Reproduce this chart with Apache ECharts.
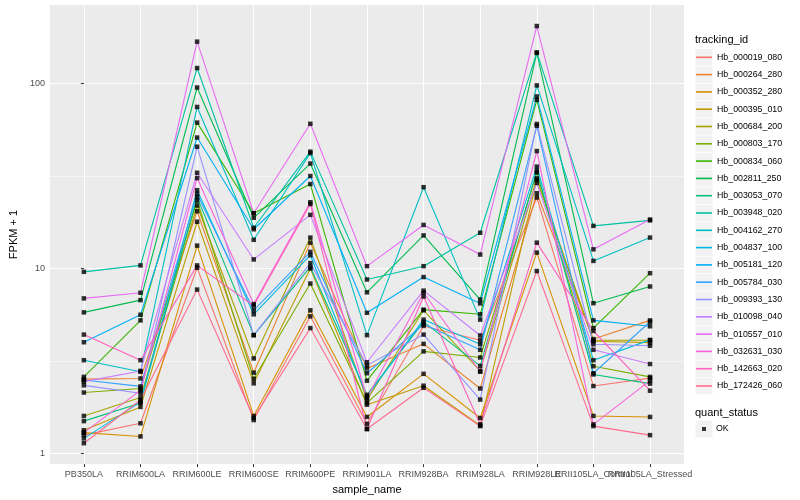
<!DOCTYPE html>
<html><head><meta charset="utf-8">
<script src="https://cdn.jsdelivr.net/npm/echarts@6/dist/echarts.min.js"></script>
<style>html,body{margin:0;padding:0;background:#fff}#c{width:800px;height:500px}</style>
</head><body><div id="c"></div>
<script>
const categories = ['PB350LA','RRIM600LA','RRIM600LE','RRIM600SE','RRIM600PE','RRIM901LA','RRIM928BA','RRIM928LA','RRIM928LE','RRII105LA_Control','RRII105LA_Stressed'];
const trackingIds = ['Hb_000019_080','Hb_000264_280','Hb_000352_280','Hb_000395_010','Hb_000684_200','Hb_000803_170','Hb_000834_060','Hb_002811_250','Hb_003053_070','Hb_003948_020','Hb_004162_270','Hb_004837_100','Hb_005181_120','Hb_005784_030','Hb_009393_130','Hb_010098_040','Hb_010557_010','Hb_032631_030','Hb_142663_020','Hb_172426_060'];
const colors = ['#F8766D','#EA8331','#D89000','#C09B00','#A3A500','#7CAE00','#39B600','#00BB4E','#00BF7D','#00C1A3','#00BFC4','#00BAE0','#00B0F6','#35A2FF','#9590FF','#C77CFF','#E76BF3','#FA62DB','#FF62BC','#FF6C91'];
const yTicks = [1, 10, 100];
const yMinorTicks = [3.1623, 31.623];
const quantStatus = ['OK'];

const s01 = [1.26, 1.46, 10.1, 1.52, 5.52, 1.45, 4.9, 4.1, 24.2, 2.32, 2.56];
const s02 = [2.53, 2.55, 20.4, 2.74, 13.8, 2.89, 3.92, 2.25, 25.5, 4.16, 5.25];
const s03 = [1.30, 1.24, 13.3, 1.60, 5.95, 1.58, 2.70, 1.56, 12.2, 1.60, 1.58];
const s04 = [1.34, 1.79, 17.9, 2.40, 10.0, 1.84, 2.33, 1.42, 30.2, 4.05, 3.98];
const s05 = [1.60, 2.01, 21.9, 3.27, 14.7, 1.95, 5.95, 2.8, 30.7, 4.1, 4.1];
const s06 = [2.14, 2.25, 23.3, 2.54, 8.3, 1.88, 3.57, 3.31, 33, 2.97, 2.6];
const s07 = [2.6, 5.25, 61.4, 19.9, 28.6, 2.48, 6.0, 5.66, 81.5, 4.77, 9.44];
const s08 = [5.8, 6.75, 95, 18.8, 36.9, 7.44, 15.1, 6.8, 146, 6.5, 8.0];
const s09 = [1.50, 1.88, 24.3, 4.37, 10.2, 2.08, 5.15, 2.98, 33.7, 2.68, 2.39];
const s10 = [9.6, 10.4, 121, 16.6, 42.8, 8.73, 10.3, 15.6, 147, 17.0, 18.2];
const s11 = [3.2, 2.77, 74.6, 14.3, 42.0, 4.37, 27.5, 5.3, 97.5, 11.0, 14.7];
const s12 = [1.21, 1.90, 26.5, 5.66, 11.8, 2.04, 5.3, 3.9, 35.5, 3.2, 4.12];
const s13 = [4.0, 5.63, 51, 16.3, 31.6, 5.77, 9.0, 6.48, 85, 5.25, 4.88];
const s14 = [2.5, 2.31, 25.3, 5.95, 12.3, 2.72, 5.0, 3.64, 59, 2.72, 5.16];
const s15 = [2.34, 2.12, 45.5, 4.37, 10.7, 3.0, 4.4, 1.96, 60.4, 3.9, 3.83];
const s16 = [2.45, 2.8, 32.9, 11.2, 19.5, 3.12, 7.6, 4.35, 29, 3.64, 3.05];
const s17 = [6.9, 7.4, 168, 19.9, 60.5, 10.3, 17.2, 11.9, 204, 12.7, 18.4];
const s18 = [1.3, 2.2, 30.8, 6.43, 22.8, 2.0, 7.4, 2.77, 43.1, 1.44, 2.48];
const s19 = [4.4, 3.2, 10.4, 6.3, 22.3, 1.36, 7.06, 1.44, 13.8, 4.6, 2.19];
const s20 = [1.14, 1.95, 7.7, 1.56, 4.77, 1.36, 2.27, 1.41, 9.7, 1.41, 1.26];
const seriesValues = [s01,s02,s03,s04,s05,s06,s07,s08,s09,s10,s11,s12,s13,s14,s15,s16,s17,s18,s19,s20];

const FONT = 'Liberation Sans, Arial, sans-serif';
const chart = echarts.init(document.getElementById('c'), null, {renderer:'canvas'});
const idx = categories.map((_, i) => i);
const idxMain = idx.filter(i => i !== 9);
const idxAlt = [9];

const LEG_X = 696, LEG_Y0 = 57.3, LEG_STEP = 17.3, OK_Y = 429;
const Y_MIN = 0.879, Y_MAX = 265;

const lineSeries = trackingIds.map((name, k) => ({
  name: name, type: 'line', symbol: 'none', showSymbol: false,
  lineStyle: { width: 1.1, color: colors[k], opacity: 1, join: 'round' }, itemStyle: { color: colors[k] },
  emphasis: { disabled: true },
  data: seriesValues[k].map((v, i) => [i, v]), z: 2
}));

const points = [];
seriesValues.forEach(arr => arr.forEach((v, i) => points.push([i, v])));

const keyRects = trackingIds.map((_, i) => ({
  type: 'rect', z: 0, silent: true,
  shape: { x: LEG_X - 0.5, y: LEG_Y0 + i * LEG_STEP - 8.3, width: 17, height: 16.6 },
  style: { fill: '#F2F2F2' }
}));
keyRects.push({ type: 'rect', z: 0, silent: true,
  shape: { x: LEG_X - 0.5, y: OK_Y - 8.3, width: 17, height: 16.6 }, style: { fill: '#F2F2F2' } });

const xLabelBase = { formatter: v => categories[Math.round(v)], showMinLabel: true, showMaxLabel: true, hideOverlap: false,
  fontSize: 9, color: '#4D4D4D', margin: 6, fontFamily: FONT };

chart.setOption({
  animation: false,
  textStyle: { fontFamily: FONT },
  grid: { left: 39.5, right: 116, top: 5, bottom: 31.5, show: true, backgroundColor: '#EBEBEB', borderWidth: 0 },
  title: [
    { text: 'tracking_id', left: LEG_X - 1, top: 34.5, padding: 0, textStyle: { fontSize: 11, fontWeight: 'normal', color: '#000', fontFamily: FONT } },
    { text: 'quant_status', left: LEG_X - 1, top: 407.5, padding: 0, textStyle: { fontSize: 11, fontWeight: 'normal', color: '#000', fontFamily: FONT } }
  ],
  legend: [
    { orient: 'vertical', left: LEG_X, top: LEG_Y0 - LEG_STEP / 2, padding: 0, itemWidth: 16, itemHeight: 1.6, itemGap: 0,
      icon: 'rect', selectedMode: false, data: trackingIds,
      textStyle: { fontSize: 8.8, color: '#000', lineHeight: LEG_STEP, fontFamily: FONT } },
    { orient: 'vertical', left: LEG_X + 6, top: OK_Y - LEG_STEP / 2, padding: 0, itemWidth: 4, itemHeight: 4, itemGap: 0,
      icon: 'rect', selectedMode: false, data: quantStatus,
      textStyle: { fontSize: 8.8, color: '#000', lineHeight: LEG_STEP, padding: [0, 0, 0, 5], fontFamily: FONT } }
  ],
  graphic: keyRects,
  xAxis: [
    {
      type: 'value', min: -0.6, max: 10.6,
      name: 'sample_name', nameLocation: 'middle', nameGap: 13,
      nameTextStyle: { fontSize: 11, color: '#000', fontFamily: FONT },
      axisLine: { show: false },
      axisTick: { show: true, length: 3, customValues: idx, lineStyle: { color: '#333333', width: 1 } },
      axisLabel: Object.assign({ customValues: idxMain }, xLabelBase),
      splitLine: { show: true, lineStyle: { color: '#FFFFFF', width: 1.07 } }
    },
    {
      type: 'value', min: -0.6, max: 10.6, position: 'bottom', offset: 0,
      axisLine: { show: false },
      axisTick: { show: false, customValues: idxAlt },
      axisLabel: Object.assign({ customValues: idxAlt }, xLabelBase),
      splitLine: { show: false }
    }
  ],
  yAxis: [
    {
      type: 'log', logBase: 10, min: Y_MIN, max: Y_MAX,
      name: 'FPKM + 1', nameLocation: 'middle', nameGap: 20, nameRotate: 90,
      nameTextStyle: { fontSize: 11, color: '#000', fontFamily: FONT },
      axisLine: { show: false },
      axisTick: { show: true, length: 3, customValues: yTicks, lineStyle: { color: '#333333', width: 1 } },
      axisLabel: { customValues: yTicks, showMinLabel: true, showMaxLabel: true, fontSize: 9, color: '#4D4D4D', margin: 5, fontFamily: FONT },
      splitLine: { show: true, lineStyle: { color: '#FFFFFF', width: 1.07 } }
    },
    {
      type: 'log', logBase: 10, min: Y_MIN, max: Y_MAX, position: 'left',
      axisLine: { show: false },
      axisTick: { show: false, customValues: yMinorTicks },
      axisLabel: { show: false, customValues: yMinorTicks },
      splitLine: { show: true, lineStyle: { color: '#FFFFFF', width: 0.55 } }
    }
  ],
  series: lineSeries.concat([
    { name: 'OK', type: 'scatter', symbol: 'rect', symbolSize: 4.5, itemStyle: { color: '#000000' },
      emphasis: { disabled: true }, data: points, z: 3 }
  ])
});
</script></body></html>
